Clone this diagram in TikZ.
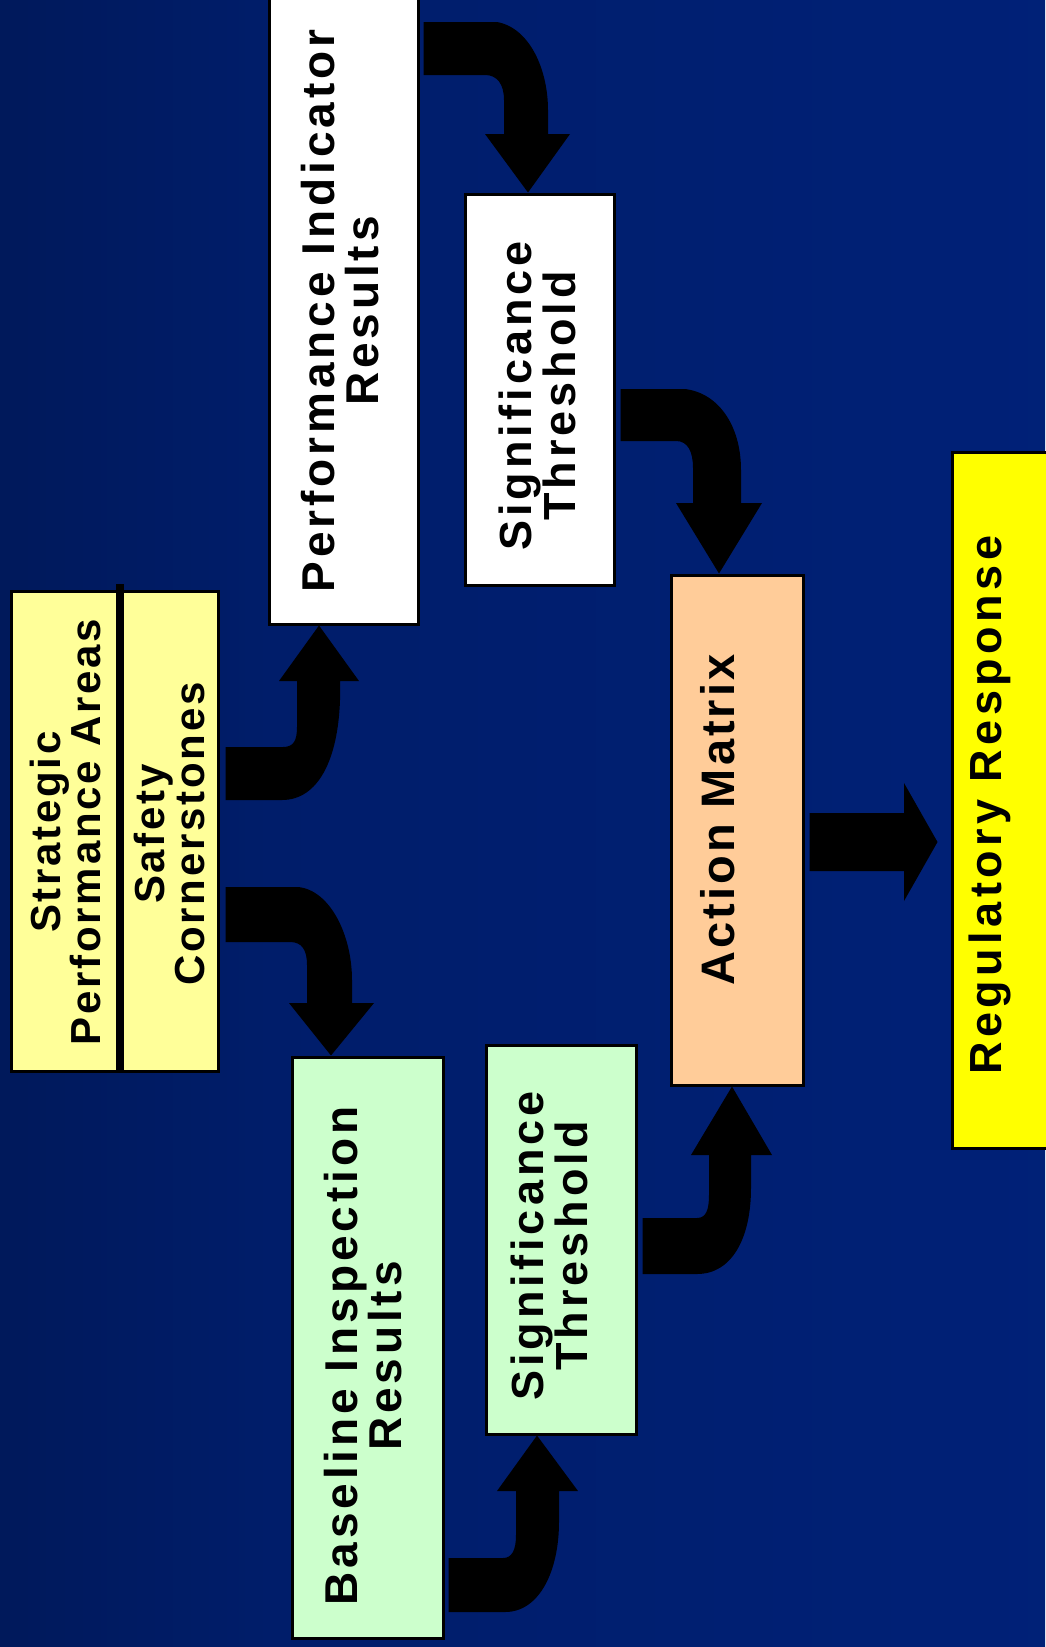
\documentclass[tikz,border=0pt]{standalone}
\usepackage{fontspec}
\setmainfont{Liberation Sans}
\usetikzlibrary{calc}
\definecolor{bgL}{RGB}{0,17,62}
\definecolor{bgM}{RGB}{0,29,106}
\definecolor{bgR}{RGB}{0,35,128}
\definecolor{spaY}{RGB}{255,255,153}
\definecolor{amO}{RGB}{255,204,153}
\definecolor{rrY}{RGB}{255,255,0}
\definecolor{biG}{RGB}{204,255,204}
\pgfdeclarehorizontalshading{bgshade}{100bp}{color(0bp)=(bgL); color(38bp)=(bgM); color(100bp)=(bgR)}
\newcommand\lblfont[3]{\fontsize{#1}{#2}\selectfont\bfseries\addfontfeature{LetterSpace=#3}}
\tikzset{
  box/.style={draw=black, line width=3pt, inner sep=0pt},
  lbl/.style={align=center, inner sep=0pt, text=black, rotate=90},
  blockarrow/.style={fill=black},
}
\begin{document}
\begin{tikzpicture}[x=1pt,y=-1pt]
\useasboundingbox (0,0) rectangle (1045,1647);
\shade[shading=bgshade] (0,0) rectangle (1045,1647);

% boxes
\node[box, fill=spaY, minimum width=207pt, minimum height=480pt] (spa) at (114.5,831) {};
\draw[line width=8pt] (120,584) -- (spa.south -| 120,0);
\node[box, fill=white, minimum width=149pt, minimum height=627pt] (pi) at (343.5,310.5) {};
\node[box, fill=white, minimum width=149pt, minimum height=391pt] (st1) at (539.5,389.5) {};
\node[box, fill=amO, minimum width=132pt, minimum height=510pt] (am) at (737,830) {};
\node[box, fill=rrY, minimum width=100pt, minimum height=696pt] (rr) at (1002,800) {};
\node[box, fill=biG, minimum width=151pt, minimum height=581pt] (bi) at (367.5,1347.5) {};
\node[box, fill=biG, minimum width=150pt, minimum height=389pt] (st2) at (561,1239.5) {};

% labels
\node[lbl, font=\lblfont{42}{40}{6.5}] (spat1) at (65,832) {Strategic\\Performance Areas};
\node[lbl, font=\lblfont{42}{40}{6.5}] (spat2) at (169,834) {Safety\\Cornerstones};
\node[lbl, font=\lblfont{46}{44}{8.5}] (pit) at (340,311) {Performance Indicator\\Results};
\node[lbl, font=\lblfont{45}{44}{9}] (st1t) at (537,396) {Significance\\Threshold};
\node[lbl, font=\lblfont{47}{44}{6.5}] (amt) at (718,820) {Action Matrix};
\node[lbl, font=\lblfont{45}{44}{10}] (rrt) at (990,805) {Regulatory Response};
\node[lbl, font=\lblfont{46}{44}{8.5}] (bit) at (363,1356) {Baseline Inspection\\Results};
\node[lbl, font=\lblfont{45}{44}{9}] (st2t) at (549,1246) {Significance\\Threshold};

% block arrows
\fill[blockarrow] ($(spa.east |- 0,747)+(6,0)$) -- (283,747) .. controls (294,747) and (297,740) .. (297,727) -- (297,681) -- (279,681) -- (pi.south -| 319,0) -- (359,681) -- (340,681) -- (340,700) .. controls (338,760) and (318,800) .. (282,800) -- ($(spa.east |- 0,800)+(6,0)$) -- cycle;

\fill[blockarrow] ($(spa.east |- 0,887)+(6,0)$) -- (298,887) .. controls (330,890) and (352,935) .. (352,980) -- (352,1003) -- (374,1003) -- (bi.north -| 331,0) -- (289,1003) -- (307,1003) -- (307,965) .. controls (307,950) and (302,942) .. (290,942) -- ($(spa.east |- 0,942)+(6,0)$) -- cycle;

\fill[blockarrow] ($(pi.east |- 0,22)+(4,0)$) -- (497,22) .. controls (530,28) and (548,70) .. (548,110) -- (548,134) -- (570,134) -- (st1.north -| 528,0) -- (485,134) -- (504,134) -- (504,100) .. controls (504,84) and (497,75) .. (485,75) -- ($(pi.east |- 0,75)+(4,0)$) -- cycle;

\fill[blockarrow] ($(st1.east |- 0,389)+(5,0)$) -- (685,389) .. controls (718,393) and (741,425) .. (741,470) -- (741,503) -- (762,503) -- (am.north -| 719,0) -- (676,503) -- (693,503) -- (693,468) .. controls (693,452) and (688,441) .. (676,441) -- ($(st1.east |- 0,441)+(5,0)$) -- cycle;

\fill[blockarrow] ($(bi.east |- 0,1558)+(4,0)$) -- (503,1558) .. controls (512,1558) and (516,1550) .. (516,1535) -- (516,1491) -- (497,1491) -- (st2.south -| 537,0) -- (578,1491) -- (559,1491) -- (559,1522) .. controls (559,1570) and (540,1612) .. (505,1612) -- ($(bi.east |- 0,1612)+(4,0)$) -- cycle;

\fill[blockarrow] ($(st2.east |- 0,1218)+(5,0)$) -- (697,1218) .. controls (706,1218) and (709,1210) .. (709,1195) -- (709,1155) -- (691,1155) -- (am.south -| 732,0) -- (772,1155) -- (751,1155) -- (751,1188) .. controls (751,1238) and (732,1274) .. (697,1274) -- ($(st2.east |- 0,1274)+(5,0)$) -- cycle;

\fill[blockarrow] ($(am.east |- 0,813)+(5,0)$) -- (904,813) -- (904,783) -- ($(rr.west |- 0,842)+(-13,0)$) -- (904,901) -- (904,871) -- ($(am.east |- 0,871)+(5,0)$) -- cycle;
\end{tikzpicture}
\end{document}
